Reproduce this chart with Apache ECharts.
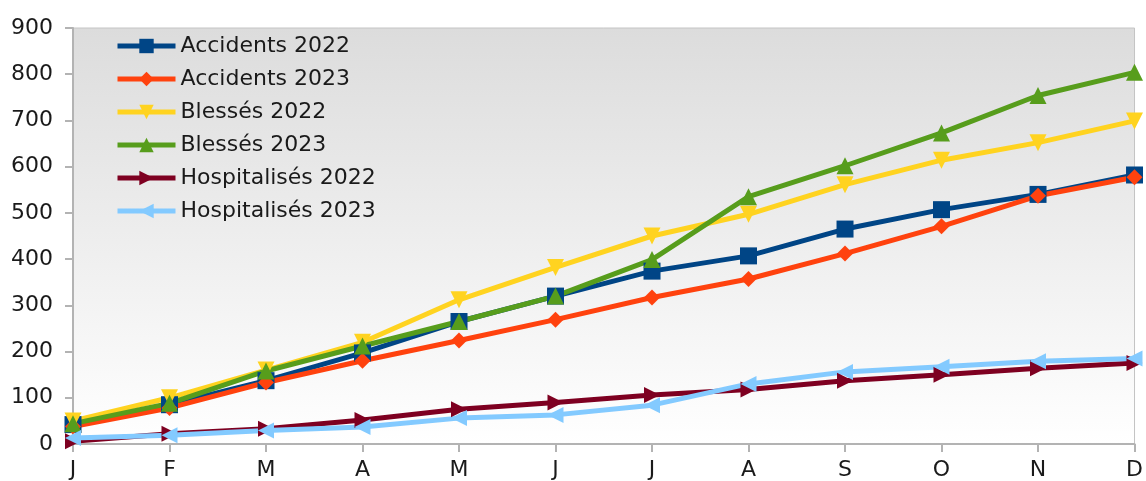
<!DOCTYPE html>
<html>
<head>
<meta charset="utf-8">
<script src="https://cdn.jsdelivr.net/npm/echarts@6/dist/echarts.min.js"></script>
<style>
html,body{margin:0;padding:0;background:#fff;}
#chart{width:1146px;height:481px;}
</style>
</head>
<body>
<div id="chart"></div>
<script>
const months = ['J','F','M','A','M','J','J','A','S','O','N','D'];
const accidents2022 = [42, 85, 137, 197, 265, 320, 374, 407, 465, 507, 540, 582];
const accidents2023 = [38, 78, 133, 180, 224, 269, 317, 357, 412, 471, 537, 577];
const blesses2022 = [50, 100, 160, 220, 312, 382, 450, 497, 561, 614, 652, 699];
const blesses2023 = [44, 88, 158, 212, 265, 320, 399, 535, 602, 673, 754, 804];
const hosp2022 = [6, 22, 33, 52, 75, 90, 106, 118, 137, 150, 164, 175];
const hosp2023 = [13, 19, 29, 37, 56, 63, 84, 130, 156, 167, 179, 185];
const yTicks = [0, 100, 200, 300, 400, 500, 600, 700, 800, 900];

const seriesDefs = [
  {name:'Accidents 2022', data:accidents2022, color:'#004586', symbol:'rect', size:17},
  {name:'Accidents 2023', data:accidents2023, color:'#ff420e', symbol:'diamond', size:16},
  {name:'Blessés 2022', data:blesses2022, color:'#ffd320', symbol:'path://M0,0 L10,0 L5,10 Z', size:17},
  {name:'Blessés 2023', data:blesses2023, color:'#579d1c', symbol:'triangle', size:17},
  {name:'Hospitalisés 2022', data:hosp2022, color:'#7e0021', symbol:'path://M0,0 L10,5 L0,10 Z', size:16},
  {name:'Hospitalisés 2023', data:hosp2023, color:'#83caff', symbol:'path://M10,0 L0,5 L10,10 Z', size:16}
];

const FONT = 'DejaVu Sans, Liberation Sans, Arial, sans-serif';
const chart = echarts.init(document.getElementById('chart'));
chart.setOption({
  animation:false,
  backgroundColor:'#ffffff',
  textStyle:{fontFamily:FONT},
  grid:{
    left:73, top:28, right:9, bottom:37,
    show:true,
    borderColor:'#c4c4c4', borderWidth:1,
    backgroundColor:new echarts.graphic.LinearGradient(0,0,0,1,[
      {offset:0,color:'#dcdcdc'},{offset:1,color:'#ffffff'}
    ])
  },
  legend:{
    orient:'vertical',
    left:110, top:30,
    itemWidth:58, itemHeight:18, itemGap:11,
    lineStyle:{width:5},
    textStyle:{fontSize:22, color:'#1a1a1a', fontFamily:FONT},
    data:seriesDefs.map(s=>s.name)
  },
  xAxis:{
    type:'category', data:months, boundaryGap:false,
    axisLine:{lineStyle:{color:'#b3b3b3', width:2}},
    axisTick:{show:true, length:8, lineStyle:{color:'#b3b3b3', width:2}},
    axisLabel:{fontSize:22, color:'#1a1a1a', margin:15, fontFamily:FONT},
    splitLine:{show:false}
  },
  yAxis:{
    type:'value', min:0, max:900, interval:100,
    axisLine:{show:true, lineStyle:{color:'#b3b3b3', width:2}},
    axisTick:{show:true, length:8, lineStyle:{color:'#b3b3b3', width:2}},
    axisLabel:{fontSize:22, color:'#1a1a1a', margin:20, fontFamily:FONT,
      formatter:v=> yTicks.includes(v) ? String(v) : ''},
    splitLine:{show:false}
  },
  series:seriesDefs.map(s=>({
    name:s.name, type:'line', data:s.data,
    symbol:s.symbol, symbolSize:s.size,
    lineStyle:{color:s.color, width:5},
    itemStyle:{color:s.color},
    showSymbol:true
  }))
});
</script>
</body>
</html>
